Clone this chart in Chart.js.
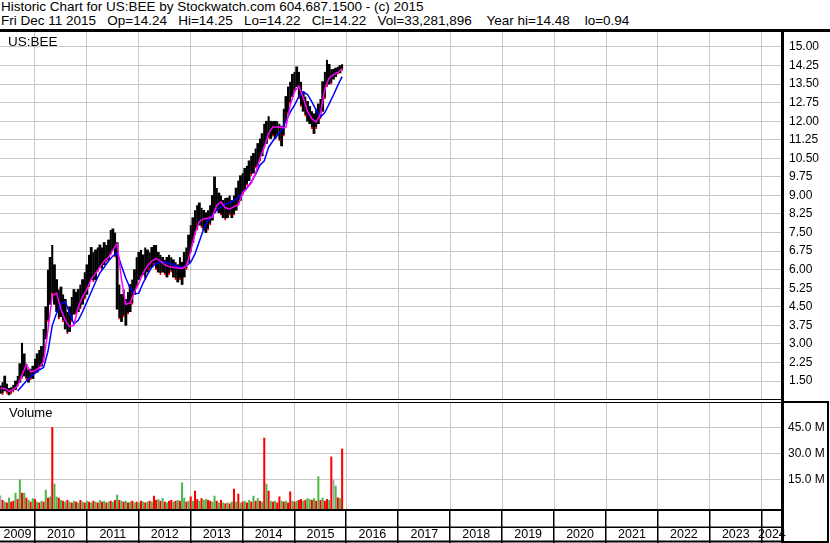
<!DOCTYPE html>
<html lang="en">
<head>
    <meta charset="UTF-8">
    <title>Historic Chart US:BEE</title>
    <script src="https://cdn.jsdelivr.net/npm/chart.js"></script>
    <style>
        body { margin: 0; background: #fff; width: 830px; height: 543px; overflow: hidden; position: relative;
               font-family: "Liberation Sans", Arial, sans-serif; color: #000; }
        .abs { position: absolute; }
        .txt { font-size: 13.5px; line-height: 14px; white-space: pre; }
        .blk { background: #000; }
    </style>
</head>
<body>
    <div class="abs txt" style="left:1px;top:0px">Historic Chart for US:BEE by Stockwatch.com 604.687.1500 - (c) 2015
Fri Dec 11 2015   Op=14.24   Hi=14.25   Lo=14.22   Cl=14.22   Vol=33,281,896    Year hi=14.48    lo=0.94</div>
    <div class="abs blk" style="left:0;top:29px;width:830px;height:3px"></div>

    <canvas id="priceChart" class="abs" width="830" height="367" style="left:0;top:32px"></canvas>
    <canvas id="volChart" class="abs" width="830" height="140" style="left:0;top:403px"></canvas>

    <div class="abs txt" style="left:8px;top:35px">US:BEE</div>
    <div class="abs txt" style="left:9px;top:406px;font-size:13px">Volume</div>

    <div class="abs blk" style="left:0;top:399px;width:782px;height:1px"></div>
    <div class="abs blk" style="left:0;top:402px;width:782px;height:1px"></div>
    <div class="abs blk" style="left:783px;top:401px;width:46px;height:1.5px"></div>
    <div class="abs blk" style="left:781px;top:32px;width:3px;height:511px"></div>
    <div class="abs blk" style="left:827px;top:401px;width:2px;height:142px"></div>
    <div class="abs blk" style="left:782px;top:541px;width:47px;height:2px"></div>

    <script>
        // half-month bars (high/low), May 2009 - Dec 2015
        const dates = [
            '2009-05-01','2009-05-16','2009-06-01','2009-06-16','2009-07-01','2009-07-16','2009-08-01','2009-08-16',
            '2009-09-01','2009-09-16','2009-10-01','2009-10-16','2009-11-01','2009-11-16','2009-12-01','2009-12-16',
            '2010-01-01','2010-01-16','2010-02-01','2010-02-16','2010-03-01','2010-03-16','2010-04-01','2010-04-16',
            '2010-05-01','2010-05-16','2010-06-01','2010-06-16','2010-07-01','2010-07-16','2010-08-01','2010-08-16',
            '2010-09-01','2010-09-16','2010-10-01','2010-10-16','2010-11-01','2010-11-16','2010-12-01','2010-12-16',
            '2011-01-01','2011-01-16','2011-02-01','2011-02-16','2011-03-01','2011-03-16','2011-04-01','2011-04-16',
            '2011-05-01','2011-05-16','2011-06-01','2011-06-16','2011-07-01','2011-07-16','2011-08-01','2011-08-16',
            '2011-09-01','2011-09-16','2011-10-01','2011-10-16','2011-11-01','2011-11-16','2011-12-01','2011-12-16',
            '2012-01-01','2012-01-16','2012-02-01','2012-02-16','2012-03-01','2012-03-16','2012-04-01','2012-04-16',
            '2012-05-01','2012-05-16','2012-06-01','2012-06-16','2012-07-01','2012-07-16','2012-08-01','2012-08-16',
            '2012-09-01','2012-09-16','2012-10-01','2012-10-16','2012-11-01','2012-11-16','2012-12-01','2012-12-16',
            '2013-01-01','2013-01-16','2013-02-01','2013-02-16','2013-03-01','2013-03-16','2013-04-01','2013-04-16',
            '2013-05-01','2013-05-16','2013-06-01','2013-06-16','2013-07-01','2013-07-16','2013-08-01','2013-08-16',
            '2013-09-01','2013-09-16','2013-10-01','2013-10-16','2013-11-01','2013-11-16','2013-12-01','2013-12-16',
            '2014-01-01','2014-01-16','2014-02-01','2014-02-16','2014-03-01','2014-03-16','2014-04-01','2014-04-16',
            '2014-05-01','2014-05-16','2014-06-01','2014-06-16','2014-07-01','2014-07-16','2014-08-01','2014-08-16',
            '2014-09-01','2014-09-16','2014-10-01','2014-10-16','2014-11-01','2014-11-16','2014-12-01','2014-12-16',
            '2015-01-01','2015-01-16','2015-02-01','2015-02-16','2015-03-01','2015-03-16','2015-04-01','2015-04-16',
            '2015-05-01','2015-05-16','2015-06-01','2015-06-16','2015-07-01','2015-07-16','2015-08-01','2015-08-16',
            '2015-09-01','2015-09-16','2015-10-01','2015-10-16','2015-11-01','2015-11-16','2015-12-01'
        ];
        const lows = [
            1.00,0.95,1.10,1.00,0.94,0.98,1.05,1.15,1.30,1.45,1.60,1.70,1.55,1.45,1.55,1.60,
            1.80,1.85,2.00,2.10,2.40,3.20,3.90,4.60,5.00,4.60,4.30,4.00,4.10,3.90,3.60,3.40,3.50,3.90,4.20,4.20,4.30,4.40,4.60,4.80,
            5.00,5.30,5.60,5.50,5.60,5.90,6.10,6.00,6.20,6.30,6.40,6.60,6.80,6.50,4.40,4.00,3.90,4.10,3.75,4.20,4.30,4.60,5.00,5.30,
            5.60,5.70,5.80,5.60,5.90,6.00,6.10,6.20,6.00,5.90,5.80,5.90,5.80,5.70,5.80,5.90,5.70,5.60,5.50,5.60,5.40,5.70,6.00,6.30,
            6.70,7.10,7.40,7.60,7.80,7.70,7.60,7.50,7.60,7.80,8.00,8.30,8.40,8.30,8.20,8.10,8.00,8.10,8.20,8.10,8.20,8.40,8.60,8.80,
            9.00,9.20,9.40,9.60,9.80,9.90,10.10,10.20,10.40,10.60,10.90,11.10,11.30,11.30,11.40,11.30,11.40,11.20,11.00,11.40,12.00,12.30,12.70,13.00,
            13.20,13.40,12.90,12.60,12.40,12.20,12.00,11.90,11.70,11.50,11.70,11.90,12.10,12.40,12.90,13.40,13.50,13.50,13.70,13.80,13.90,13.95,14.05
        ];
        const highs = [
            1.30,1.45,1.70,1.40,1.20,1.25,1.35,1.50,1.70,2.20,3.05,2.60,2.20,1.95,2.00,2.10,
            2.40,2.60,2.75,2.90,3.60,4.50,6.00,6.50,7.00,6.20,5.60,5.20,5.30,5.00,4.80,4.30,4.50,4.90,5.20,5.10,5.20,5.40,5.60,5.90,
            6.20,6.60,6.90,6.70,6.80,6.90,7.00,6.90,7.10,7.00,7.20,7.60,7.65,7.50,7.10,5.40,5.00,5.20,4.80,5.10,5.40,5.60,6.00,6.50,
            6.70,6.80,6.60,6.90,6.80,6.70,6.90,7.00,7.00,6.70,6.60,6.50,6.40,6.50,6.60,6.50,6.40,6.30,6.20,6.50,6.30,6.70,6.90,7.40,
            7.80,8.10,8.40,8.60,8.70,8.50,8.40,8.30,8.40,8.60,9.00,9.75,9.30,9.10,9.00,8.80,8.90,8.90,9.00,8.80,9.00,9.30,9.60,9.80,
            9.90,10.10,10.20,10.40,10.60,10.70,10.90,11.10,11.30,11.50,11.90,12.00,12.20,12.00,12.00,12.00,12.00,11.90,11.80,12.50,13.00,13.40,13.60,13.90,
            14.00,14.20,14.00,13.60,13.20,13.00,12.80,12.60,12.40,12.30,12.50,12.70,12.90,13.60,14.00,14.48,14.30,14.10,14.10,14.15,14.20,14.25,14.30
        ];
        // volume in millions per half month, colour code: r = down, g = up, n = unchanged
        const volumes = [
            6.0,3.5,2.5,2.0,4.8,2.5,3.0,7.6,4.0,15.2,7.6,7.6,4.8,3.5,2.5,4.5,
            4.0,2.5,2.0,3.0,2.5,9.4,4.8,5.5,45.5,12.9,5.4,4.8,3.5,3.0,2.5,3.5,2.5,2.0,3.0,2.5,2.0,3.5,2.5,2.0,
            3.0,2.5,2.0,3.0,2.5,2.0,3.5,2.5,3.0,2.0,2.5,3.0,2.5,3.5,6.5,3.5,3.0,2.5,3.0,2.0,2.5,3.0,2.0,2.5,
            2.0,3.0,2.5,2.0,2.5,3.0,2.5,5.9,3.5,4.0,3.0,4.6,2.5,2.0,3.0,3.5,2.5,3.0,3.5,3.0,13.6,4.8,2.5,3.0,
            5.5,3.0,8.8,4.0,3.0,4.5,3.5,4.0,3.5,3.0,2.5,5.9,3.0,2.0,3.5,2.0,1.5,2.0,1.5,2.5,10.0,2.5,7.1,2.0,
            2.5,3.0,2.0,3.5,2.5,5.9,3.0,4.5,3.0,2.5,39.4,12.9,8.8,3.0,2.5,3.0,2.0,5.5,3.0,2.5,3.0,2.0,8.4,3.0,
            2.5,3.0,3.5,4.0,3.0,3.5,4.5,4.0,3.5,4.5,3.0,17.1,3.5,4.8,3.0,4.0,3.5,28.5,15.0,11.7,5.0,4.5,33.1
        ];
        const volumeDir = (
            'nrgrgrrgrgrgrgrg' +
            'rgrgrgrgrggrgrgrgrgrgrgr' +
            'grgrgrgrgrgrgrgrgrgrgrgr' +
            'grgrgrgrrgrgrgrrgrgrggrg' +
            'rgrrgrggrrggrgrgrgrgrgrg' +
            'rgrgrgrgrgrgrgrgrrgrgrrg' +
            'rgrrgrggrgrgrgrrgrngrgr'
        ).split('');

        // moving averages, monthly
        const maDates = [
            '2009-05','2009-06','2009-07','2009-08','2009-09','2009-10','2009-11','2009-12',
            '2010-01','2010-02','2010-03','2010-04','2010-05','2010-06','2010-07','2010-08','2010-09','2010-10','2010-11','2010-12',
            '2011-01','2011-02','2011-03','2011-04','2011-05','2011-06','2011-07','2011-08','2011-09','2011-10','2011-11','2011-12',
            '2012-01','2012-02','2012-03','2012-04','2012-05','2012-06','2012-07','2012-08','2012-09','2012-10','2012-11','2012-12',
            '2013-01','2013-02','2013-03','2013-04','2013-05','2013-06','2013-07','2013-08','2013-09','2013-10','2013-11','2013-12',
            '2014-01','2014-02','2014-03','2014-04','2014-05','2014-06','2014-07','2014-08','2014-09','2014-10','2014-11','2014-12',
            '2015-01','2015-02','2015-03','2015-04','2015-05','2015-06','2015-07','2015-08','2015-09','2015-10','2015-11','2015-12'
        ];
        const maShort = [
            1.20,1.20,1.08,1.15,1.30,1.75,2.15,1.88,
            1.92,2.05,2.30,3.56,4.95,5.05,4.40,3.95,3.70,3.75,4.50,4.90,
            5.20,5.62,5.85,6.10,6.35,6.50,6.80,7.05,5.60,4.60,4.65,5.10,
            5.45,5.87,6.15,6.35,6.45,6.35,6.20,6.12,6.10,6.07,6.05,6.15,
            6.75,7.48,7.95,8.05,8.09,8.12,8.60,8.74,8.50,8.45,8.55,8.62,
            9.10,9.30,9.50,9.90,10.50,10.95,11.50,11.77,11.77,11.75,11.75,12.66,
            13.20,13.42,12.95,12.40,12.10,11.97,12.30,13.30,13.75,13.88,13.97,14.12
        ];
        const maLong = [
            null,null,null,null,1.10,1.30,1.50,1.68,
            1.82,1.95,2.05,2.70,3.75,4.25,4.62,4.70,4.25,3.80,3.95,4.30,
            4.70,5.10,5.50,5.87,6.10,6.35,6.55,6.68,6.15,5.65,5.25,5.02,
            5.05,5.46,5.80,6.10,6.25,6.31,6.30,6.27,6.20,6.13,6.08,6.15,
            6.30,6.65,7.15,7.65,8.00,8.20,8.40,8.55,8.65,8.70,8.80,8.92,
            9.10,9.30,9.55,9.85,10.22,10.40,10.95,11.20,11.42,11.65,12.00,12.37,
            12.65,13.00,13.18,13.08,12.78,12.45,12.17,12.35,12.70,13.06,13.45,13.80
        ];

        const priceTicks = [1.5,2.25,3,3.75,4.5,5.25,6,6.75,7.5,8.25,9,9.75,10.5,11.25,12,12.75,13.5,14.25,15];
        const volumeTicks = [15,30,45];
        const yearTicks = [2010,2011,2012,2013,2014,2015,2016,2017,2018,2019,2020,2021,2022,2023,2024];
        const yearLabels = ['2009','2010','2011','2012','2013','2014','2015','2016','2017','2018','2019','2020','2021','2022','2023','2024'];

        const X_MIN = 2009.326, X_MAX = 2024.39;
        const P_MIN = 0.7725, P_MAX = 15.606;
        const V_MIN = -1.73, V_MAX = 59.42;
        const GRID = '#c8c8c8';
        const volColors = { r: '#ff0000', g: '#4db84d', n: '#a8a8a8' };

        Chart.defaults.font.family = '"Liberation Sans", Arial, sans-serif';
        Chart.defaults.color = '#000';

        function toYear(s) {
            const p = s.split('-').map(Number);
            return p[0] + (p[1] - 1) / 12 + ((p[2] || 1) > 1 ? 1 / 24 : 0);
        }
        function fixTicks(values) {
            return scale => { scale.ticks = values.map(v => ({ value: v })); };
        }
        function noPad(scale) { scale.paddingTop = 0; scale.paddingBottom = 0; scale.paddingLeft = 0; scale.paddingRight = 0; }

        const common = {
            responsive: false, animation: false, events: [], devicePixelRatio: 1,
            layout: { padding: 0 },
            plugins: { legend: { display: false }, tooltip: { enabled: false } }
        };
        const xGrid = {
            type: 'linear', min: X_MIN, max: X_MAX, offset: false,
            afterBuildTicks: fixTicks(yearTicks),
            grid: { color: GRID, drawTicks: false, offset: false },
            border: { display: false },
            ticks: { display: false },
            afterFit: s => { s.height = 0; noPad(s); }
        };

        new Chart(document.getElementById('priceChart'), {
            type: 'bar',
            data: {
                datasets: [
                    { type: 'line', data: maDates.map((d, i) => ({ x: toYear(d), y: maShort[i] })),
                      borderColor: '#ff00ff', borderWidth: 1.5, pointRadius: 0, order: 1 },
                    { type: 'line', data: maDates.map((d, i) => ({ x: toYear(d), y: maLong[i] })),
                      borderColor: '#0000ff', borderWidth: 1.5, pointRadius: 0, order: 2 },
                    { type: 'bar', data: dates.map((d, i) => ({ x: toYear(d), y: [lows[i], highs[i]] })),
                      backgroundColor: '#000', barPercentage: 1, categoryPercentage: 1,
                      borderColor: '#ff0000', borderSkipped: false,
                      borderWidth: volumeDir.map(c => c === 'r' ? { top: 0, bottom: 2, left: 0, right: 0 } : 0),
                      order: 3 }
                ]
            },
            options: Object.assign({}, common, {
                scales: {
                    x: xGrid,
                    y: {
                        position: 'right', min: P_MIN, max: P_MAX,
                        afterBuildTicks: fixTicks(priceTicks),
                        ticks: { callback: v => v.toFixed(2), font: { size: 12 }, padding: 7 },
                        grid: { color: GRID, drawTicks: false },
                        border: { display: false },
                        afterFit: s => { s.width = 48; noPad(s); }
                    }
                }
            })
        });

        const axisFrame = {
            id: 'axisFrame',
            afterDraw(chart) {
                const { ctx, chartArea } = chart;
                const xs = chart.scales.x;
                const b = chartArea.bottom;
                ctx.save();
                ctx.fillStyle = '#000';
                ctx.fillRect(0, b, chartArea.right, 2);
                ctx.fillRect(0, b + 17.5, chartArea.right, 1.5);
                ctx.fillRect(0, chart.height - 2.5, chartArea.right, 2);
                yearTicks.forEach(v => {
                    const px = Math.round(xs.getPixelForValue(v));
                    ctx.fillRect(px - 1, b, 1.5, chart.height - b);
                });
                ctx.restore();
            }
        };

        const labelPos = yearLabels.map((y, i) => {
            const lo = i === 0 ? X_MIN : Number(y);
            const hi = i === yearLabels.length - 1 ? X_MAX : Number(y) + 1;
            return (lo + hi) / 2;
        });

        new Chart(document.getElementById('volChart'), {
            type: 'bar',
            data: {
                datasets: [{
                    data: dates.map((d, i) => ({ x: toYear(d), y: volumes[i] })),
                    backgroundColor: volumeDir.map(c => volColors[c]),
                    base: V_MIN, barPercentage: 0.95, categoryPercentage: 1
                }]
            },
            options: Object.assign({}, common, {
                scales: {
                    x: xGrid,
                    xl: {
                        type: 'linear', position: 'bottom', min: X_MIN, max: X_MAX, offset: false,
                        afterBuildTicks: fixTicks(labelPos),
                        ticks: { callback: (v, i) => yearLabels[i], font: { size: 12.5 }, padding: 18, maxRotation: 0, autoSkip: false },
                        grid: { display: false, drawTicks: false },
                        border: { display: false },
                        afterFit: s => { s.height = 34; noPad(s); }
                    },
                    y: {
                        position: 'right', min: V_MIN, max: V_MAX,
                        afterBuildTicks: fixTicks(volumeTicks),
                        ticks: { callback: v => v.toFixed(1) + ' M', font: { size: 12 }, padding: 6 },
                        grid: { color: GRID, drawTicks: false },
                        border: { display: false },
                        afterFit: s => { s.width = 48; noPad(s); }
                    }
                }
            }),
            plugins: [axisFrame]
        });
    </script>
</body>
</html>
